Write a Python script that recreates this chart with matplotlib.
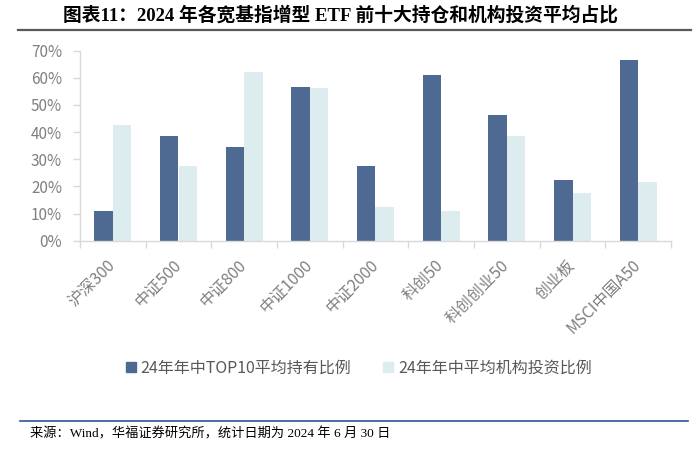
import numpy as np
import matplotlib
matplotlib.use('Agg')
import matplotlib.pyplot as plt
from matplotlib.lines import Line2D
from matplotlib.patches import Patch

plt.rcParams['font.family'] = ['Noto Sans CJK SC', 'DejaVu Sans']

categories = ['沪深300', '中证500', '中证800', '中证1000', '中证2000', '科创50', '科创创业50', '创业板', 'MSCI中国A50']
top10_ratio = [11.0, 38.5, 34.4, 56.7, 27.5, 61.2, 46.4, 22.2, 66.5]
inst_ratio = [42.6, 27.5, 62.0, 56.1, 12.4, 11.0, 38.5, 17.5, 21.7]
series_names = ['24年年中TOP10平均持有比例', '24年年中平均机构投资比例']

dark = '#4E6A93'
light = '#DDECEE'
grid_c = '#D9D9D9'
tick_c = '#7F7F7F'

fig = plt.figure(figsize=(7, 4.55), dpi=100)
ax = fig.add_axes([80/700, 1-240.7/455, 591/700, 190/455])

x = np.arange(len(categories))
w = 0.28
ax.bar(x - w/2, np.array(top10_ratio)/100, w, color=dark, label=series_names[0])
ax.bar(x + w/2, np.array(inst_ratio)/100, w, color=light, label=series_names[1])

ax.set_xlim(-0.5, len(categories)-0.5)
ax.set_ylim(0, 0.7)
ax.set_yticks(np.arange(0, 0.71, 0.1))
ax.set_yticklabels([f'{int(round(v*100))}%' for v in np.arange(0, 0.71, 0.1)], fontsize=11, color=tick_c)

# 分類刻度在格子邊界
ax.set_xticks(np.arange(-0.5, len(categories), 1))
ax.set_xticklabels([])
ax.tick_params(axis='x', which='major', length=5, color=grid_c, width=1)
ax.set_xticks(x, minor=True)
ax.set_xticklabels(categories, minor=True, rotation=45, ha='right', va='center',
                   rotation_mode='anchor', fontsize=11.5, color=tick_c)
ax.tick_params(axis='x', which='minor', length=0, pad=16)
ax.tick_params(axis='y', length=5, color=grid_c, width=1, pad=8)

for s in ['top', 'right']:
    ax.spines[s].set_visible(False)
for s in ['left', 'bottom']:
    ax.spines[s].set_color(grid_c)
    ax.spines[s].set_linewidth(1)

handles = [Patch(color=dark), Patch(color=light)]
fig.legend(handles, series_names, loc='center', bbox_to_anchor=(359/700, 1-368/455),
           ncol=2, frameon=False, fontsize=11.5, handlelength=0.6, handleheight=0.6,
           handletextpad=0.3, columnspacing=2.0, labelcolor='#595959')

fig.text(63/700, 1-15/455, '图表11：2024 年各宽基指增型 ETF 前十大持仓和机构投资平均占比',
         fontsize=13.5, fontweight='bold', ha='left', va='center',
         family=['Liberation Serif', 'Noto Sans CJK SC'])
fig.add_artist(Line2D([18/700, 691/700], [1-30/455, 1-30/455], color='#595959', lw=1.6))

fig.add_artist(Line2D([20/700, 688/700], [1-421/455, 1-421/455], color='#2E5597', lw=1.2))
fig.text(30/700, 1-434/455, '来源：Wind，华福证券研究所，统计日期为 2024 年 6 月 30 日',
         fontsize=9.5, ha='left', va='center', family=['Liberation Serif', 'Noto Sans CJK SC'])

plt.savefig('out.png', dpi=100)
